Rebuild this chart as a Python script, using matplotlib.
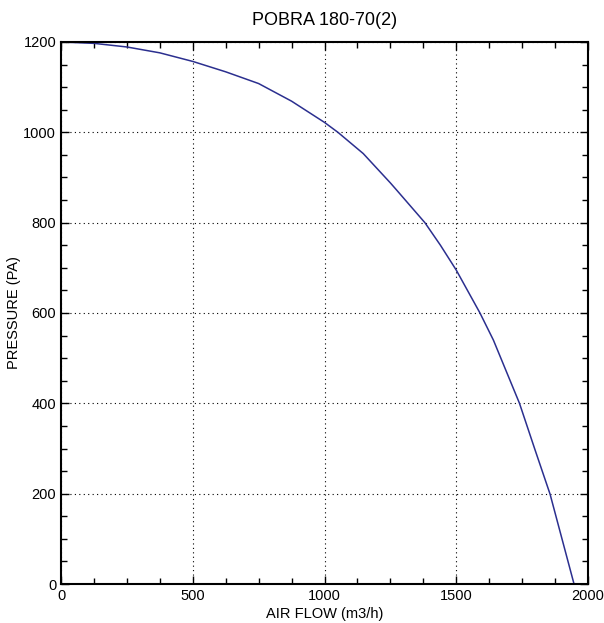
import matplotlib
matplotlib.use("Agg")
import matplotlib.pyplot as plt
from matplotlib.ticker import MultipleLocator

plt.rcParams['font.family'] = ['Liberation Sans', 'DejaVu Sans']

flow = [0, 125, 250, 375, 500, 625, 750, 875, 1000, 1051, 1147, 1250, 1274, 1381,
        1440, 1500, 1590, 1641, 1740, 1799, 1856, 1947]
pressure = [1200, 1197, 1189, 1176, 1157, 1134, 1108, 1069, 1022, 1000, 953, 888, 872, 800,
            750, 695, 600, 540, 400, 297, 199, 0]

fig = plt.figure(figsize=(6.04, 6.23), dpi=100)
ax = fig.add_axes([61/604, 39/623, 527/604, 542/623])
ax.plot(flow, pressure, color='#2b2f8f', linewidth=1.1)
ax.set_xlim(0, 2000)
ax.set_ylim(0, 1200)
ax.xaxis.set_major_locator(MultipleLocator(500))
ax.xaxis.set_minor_locator(MultipleLocator(125))
ax.yaxis.set_major_locator(MultipleLocator(200))
ax.yaxis.set_minor_locator(MultipleLocator(50))
ax.tick_params(which='both', direction='in', top=True, right=True, labelsize=10.5, colors='black')
ax.tick_params(which='major', length=6, width=1)
ax.tick_params(which='minor', length=4, width=1)
ax.grid(True, which='major', linestyle=(0, (1, 3)), color='black', linewidth=0.8)
for s in ax.spines.values():
    s.set_linewidth(1.5)
ax.set_title('POBRA 180-70(2)', fontsize=13, pad=12)
ax.set_xlabel('AIR FLOW (m3/h)', fontsize=10.5, labelpad=3)
ax.set_ylabel('PRESSURE (PA)', fontsize=10.5, va='center')
ax.yaxis.set_label_coords(-0.089, 0.5)
fig.savefig('out.png', dpi=100)
